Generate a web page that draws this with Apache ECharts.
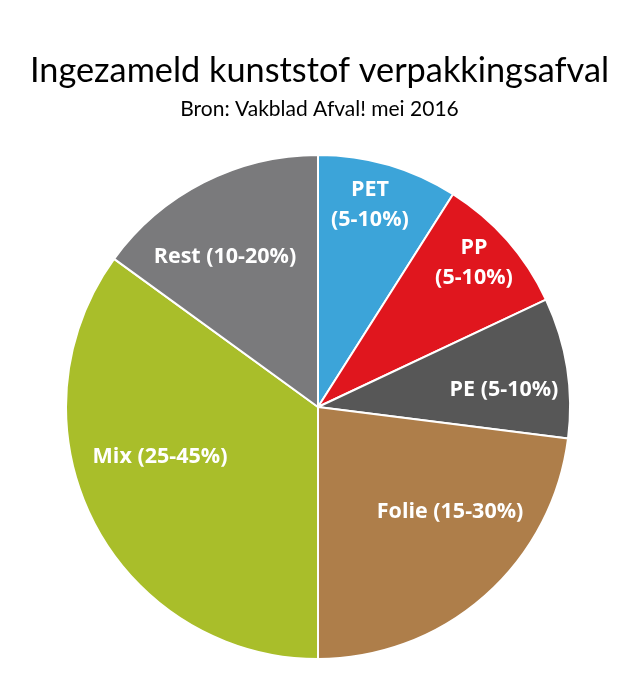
<!DOCTYPE html>
<html><head><meta charset="utf-8">
<script src="https://cdn.jsdelivr.net/npm/echarts@6/dist/echarts.min.js"></script>
<style>html,body{margin:0;padding:0;background:#fff}#c{width:639px;height:683px}</style>
</head><body><div id="c"></div>
<script>
const categories = ['PET', 'PP', 'PE', 'Folie', 'Mix', 'Rest'];
const rangeLabels = ['(5-10%)', '(5-10%)', '(5-10%)', '(15-30%)', '(25-45%)', '(10-20%)'];
const values = [9, 9, 9, 23, 35, 15];
const twoLine = [true, true, false, false, false, false];

const colors = ['#3CA4D9', '#E0161E', '#575757', '#AE7E4A', '#A9BE2A', '#7A7A7C'];
// label centre offsets from pie centre, as fractions of the radius (layout only)
const labelOffsetX = [0.206, 0.619, 0.738, 0.524, -0.627, -0.369];
const labelOffsetY = [-0.802, -0.571, -0.067, 0.417, 0.198, -0.595];
const CX = 318, CY = 407, R = 252;

const chart = echarts.init(document.getElementById('c'), null, {renderer: 'canvas'});
chart.setOption({
  backgroundColor: '#fff',
  title: [
    {text: 'Ingezameld kunststof verpakkingsafval', left: 'center', top: 49,
     textStyle: {fontFamily: 'Lato', fontWeight: 'normal', fontSize: 34.3, color: '#000'}},
    {text: 'Bron: Vakblad Afval! mei 2016', left: 'center', top: 94,
     textStyle: {fontFamily: 'Lato', fontWeight: 'normal', fontSize: 21, color: '#000'}}
  ],
  series: [{
    type: 'pie',
    center: [CX, CY],
    radius: [0, R],
    startAngle: 90,
    clockwise: true,
    silent: true,
    itemStyle: {borderColor: '#fff', borderWidth: 2},
    label: {
      show: true, position: 'inside', color: '#fff', fontFamily: 'Open Sans',
      fontWeight: 'bold', fontSize: 21.5, lineHeight: 30, align: 'center',
      formatter: p => p.name + (twoLine[p.dataIndex] ? '\n' : ' ') + rangeLabels[p.dataIndex]
    },
    labelLine: {show: false},
    labelLayout: p => {
      const i = p.dataIndex;
      return {x: CX + R * labelOffsetX[i], y: CY + R * labelOffsetY[i], align: 'center', verticalAlign: 'middle'};
    },
    data: categories.map((c, i) => ({name: c, value: values[i], itemStyle: {color: colors[i]}}))
  }]
});
</script></body></html>
